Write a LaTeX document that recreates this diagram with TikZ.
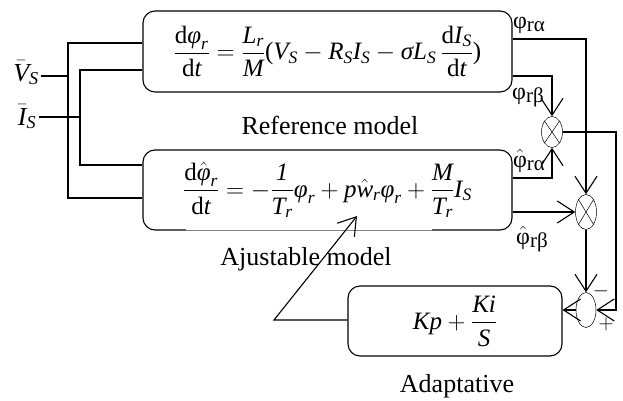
\documentclass[tikz,border=0pt]{standalone}
\usepackage{amsmath}
\usepackage{fontspec}
\setmainfont{Liberation Serif}
\usetikzlibrary{arrows.meta,shapes.geometric}
\newcommand\sigl[2]{{\fontsize{24}{24}\selectfont#1}\raisebox{-3pt}{\fontsize{21}{21}\selectfont #2}}
\newcommand\tv[1]{\text{\itshape #1}}
\newcommand\tu[1]{\text{\upshape #1}}
\begin{document}
\begin{tikzpicture}[x=1pt,y=-1pt,line width=1.1pt,
  >={Straight Barb[length=17pt,width=22pt]},
  box/.style={draw,rounded corners=12pt,inner sep=0pt,font=\fontsize{25}{30}\selectfont},
  junc/.style={draw,ellipse,line width=0.5pt,inner sep=0pt},
  lbl/.style={inner sep=0pt,anchor=base,font=\fontsize{26}{30}\selectfont},
  sig/.style={inner sep=0pt},
  pm/.style={inner sep=0pt,font=\fontsize{20}{20}\selectfont}]
\useasboundingbox (0,0) rectangle (623,401);

% blocks
\node[box,minimum width=369pt,minimum height=81pt] (ref) at (327.5,51.5)
  {$\displaystyle\frac{\tu{d}\tv{φ}_{\tv{r}}}{\tu{d}\tv{t}}=\frac{\tv{L}_{\tv{r}}}{\tv{M}}\tu{(}\tv{V}_{\tv{S}}-\tv{R}_{\tv{S}}\tv{I}_{\tv{S}}-\tv{σ}\tv{L}_{\tv{S}}\,\frac{\tu{d}\tv{I}_{\tv{S}}}{\tu{d}\tv{t}}\tu{)}$};
\node[box,minimum width=369pt,minimum height=80pt] (adj) at (327.5,190)
  {$\displaystyle\frac{\tu{d}\hat{\tv{φ}}_{\tv{r}}}{\tu{d}\tv{t}}=-\frac{\tv{1}}{\tv{T}_{\tv{r}}}\tv{φ}_{\tv{r}}+\tv{p}\hat{\tv{w}}_{\tv{r}}\tv{φ}_{\tv{r}}+\frac{\tv{M}}{\tv{T}_{\tv{r}}}\tv{I}_{\tv{S}}$};
\draw[white,line width=2pt] (186,230) -- (432,230);
\draw[gray,line width=0.5pt] (186,230) -- (432,230);
\node[box,minimum width=214pt,minimum height=70pt] (pi) at (455,321)
  {$\displaystyle \tv{Kp}+\frac{\tv{Ki}}{\tv{S}}$};

% junctions
\node[junc,minimum width=21pt,minimum height=31pt] (m1) at (552,132) {};
\node[junc,minimum width=21pt,minimum height=35pt] (m2) at (586,212) {};
\node[junc,minimum width=20pt,minimum height=35pt] (sum) at (586,310) {};
\foreach \m in {m1,m2}{
  \draw[line width=0.5pt] (\m.north east) -- (\m.south west);
  \draw[line width=0.5pt] (\m.north west) -- (\m.south east);
}

% texts
\node[lbl] (tref) at (330,135) {Reference model};
\node[lbl] (tadj) at (306,265) {Ajustable model};
\node[lbl] (tpi) at (457,392) {Adaptative};
\node[sig,font=\fontsize{26}{30}\selectfont] (vs) at (26,73) {$\bar{\tv{V}}_{\tv{S}}$};
\node[sig,font=\fontsize{26}{30}\selectfont] (is) at (27,117) {$\bar{\tv{I}}_{\tv{S}}$};
\node[sig] (lra) at (529,25) {\sigl{φ}{rα}};
\node[sig] (lrb) at (528,97) {\sigl{φ}{rβ}};
\node[sig] (lha) at (529,161) {\sigl{$\hat{\hbox{φ}}$}{rα}};
\node[sig] (lhb) at (532,239) {\sigl{$\hat{\hbox{φ}}$}{rβ}};
\node[pm] (minus) at (601,291) {$-$};
\node[pm] (plus) at (606,324) {$+$};

% coordinates
\coordinate (xo) at (68,0);
\coordinate (xi) at (80,0);
\coordinate (y1) at (0,43);
\coordinate (y2) at (0,70);
\coordinate (y3) at (0,165);
\coordinate (y4) at (0,198);
\coordinate (ya) at (0,39);
\coordinate (yb) at (0,76);
\coordinate (yc) at (0,178);
\coordinate (yv) at (0,76);
\coordinate (yi) at (0,117);
\coordinate (xr) at (616,0);
\coordinate (bend) at (274,320);
\coordinate (wtip) at (357,216);

% inputs
\draw ([xshift=2pt]vs.east |- yv) -- (xo |- yv);
\draw ([xshift=2pt]is.east |- yi) -- (xi |- yi);
\draw (ref.west |- y1) -- (xo |- y1) -- (xo |- y4) -- (adj.west |- y4);
\draw (ref.west |- y2) -- (xi |- y2) -- (xi |- y3) -- (adj.west |- y3);

% outputs
\draw[->] (ref.east |- ya) -| (m2.north);
\draw[->] (ref.east |- yb) -| (m1.north);
\draw[->] (adj.east |- yc) -| (m1.south);
\draw[->] (adj.east |- m2.west) -- (m2.west);
\draw[->] (m1.east) -- (m1.east -| xr) -- (xr |- sum.east) -- (sum.east);
\draw[->] (m2.south) -- (sum.north);
\draw[->] (sum.west) -- (sum.west -| pi.east);
\draw[->] (pi.west |- bend) -- (bend) -- (wtip);
\end{tikzpicture}
\end{document}
